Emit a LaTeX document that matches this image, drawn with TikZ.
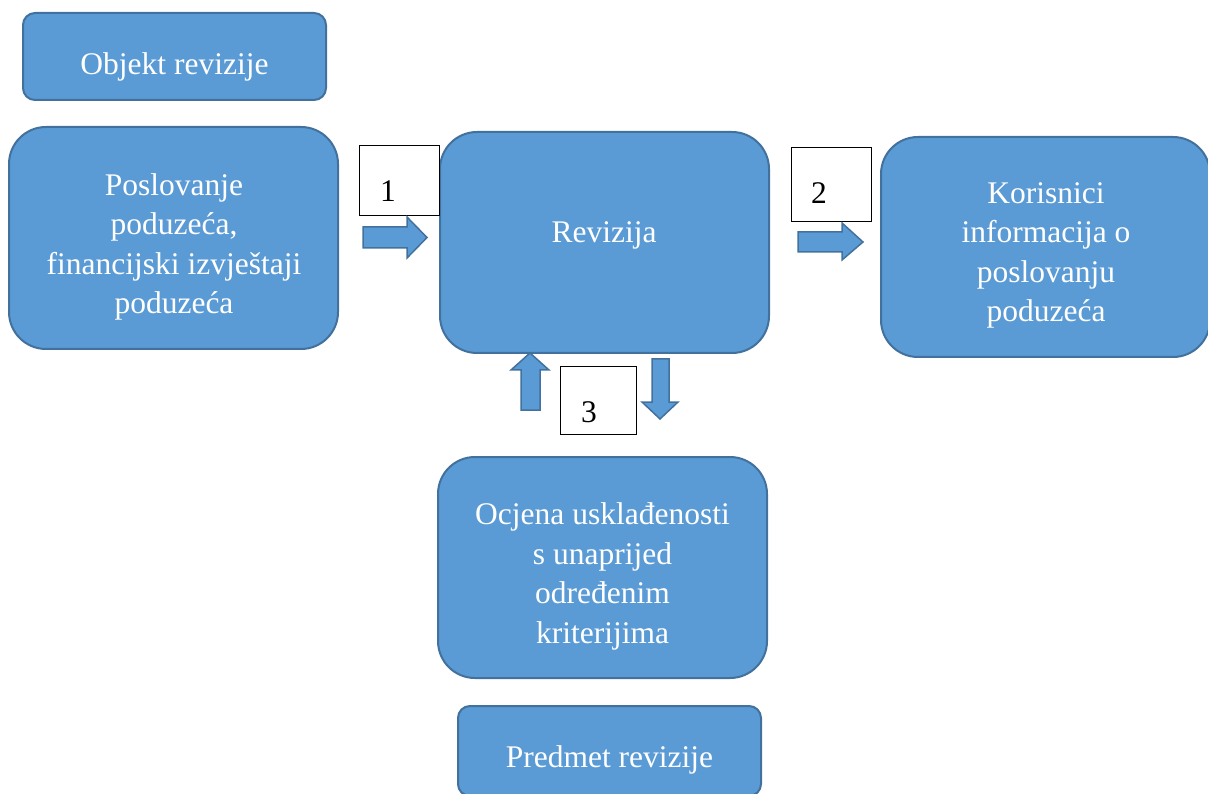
\documentclass[tikz,border=0pt]{standalone}
\usepackage{fontspec}
\setmainfont{Liberation Serif}
\definecolor{boxfill}{HTML}{5B9BD5}
\definecolor{boxedge}{HTML}{41719C}
\begin{document}
\begin{tikzpicture}[x=1pt,y=-1pt,
  bigbox/.style={draw=boxedge, fill=boxfill, line width=2pt, rounded corners=37pt, inner sep=0pt},
  smallbox/.style={draw=boxedge, fill=boxfill, line width=2pt, rounded corners=12pt, inner sep=0pt},
  lbl/.style={text=white, font=\fontsize{31.5}{39.5}\selectfont, align=center, anchor=base, inner sep=0pt},
  numbox/.style={draw=black, fill=white, line width=1pt, inner sep=0pt, text depth=0pt,
    font=\fontsize{31.5}{39.5}\selectfont},
  blockarrow/.style={draw=boxedge, fill=boxfill, line width=1.5pt, line join=miter}]
\useasboundingbox (0,0) rectangle (1208,794);

% boxes
\node[smallbox, minimum width=303pt, minimum height=87pt] (objekt) at (174.5,56.5) {};
\node[bigbox, minimum width=329pt, minimum height=222pt] (posl) at (173.5,238) {};
\node[bigbox, minimum width=329pt, minimum height=221pt] (rev) at (604.5,242.5) {};
\node[bigbox, minimum width=329pt, minimum height=220pt] (kor) at (1045.5,247) {};
\node[bigbox, minimum width=329pt, minimum height=221pt] (ocj) at (602.5,567.5) {};
\node[smallbox, minimum width=303pt, minimum height=90pt] (pred) at (609.5,751) {};

% texts (anchor base = baseline of the last line)
\node[lbl] (tobj) at (174.5,75) {Objekt revizije};
\node[lbl] (tposl) at (174,314) {Poslovanje\\poduzeća,\\financijski izvještaji\\poduzeća};
\node[lbl] (trev) at (604,243) {Revizija};
\node[lbl] (tkor) at (1046,322) {Korisnici\\informacija o\\poslovanju\\poduzeća};
\node[lbl] (tocj) at (602.5,643) {Ocjena usklađenosti\\s unaprijed\\određenim\\kriterijima};
\node[lbl] (tpred) at (609.5,767) {Predmet revizije};

% number boxes
\node[numbox, minimum width=80pt, minimum height=70pt, text height=42pt] (n1) at (399,181) {1\hspace*{22pt}};
\node[numbox, minimum width=80pt, minimum height=74pt, text height=38pt] (n2) at (831,185) {2\hspace*{24pt}};
\node[numbox, minimum width=76pt, minimum height=67pt, text height=43pt] (n3) at (598,400.5) {3\hspace*{18pt}};

% block arrows
\draw[blockarrow] (363,227) -- (407,227) -- (407,217) -- (427,237.5) -- (407,258) -- (407,248) -- (363,248) -- cycle;
\draw[blockarrow] (798,232) -- (842,232) -- (842,223) -- (863,242) -- (842,260) -- (842,252) -- (798,252) -- cycle;
\draw[blockarrow] (521,410) -- (521,370) -- (511,370) -- (530,353) -- (549,370) -- (540,370) -- (540,410) -- cycle;
\draw[blockarrow] (652,359) -- (669,359) -- (669,402) -- (678,402) -- (660,419) -- (642,402) -- (652,402) -- cycle;
\end{tikzpicture}
\end{document}
